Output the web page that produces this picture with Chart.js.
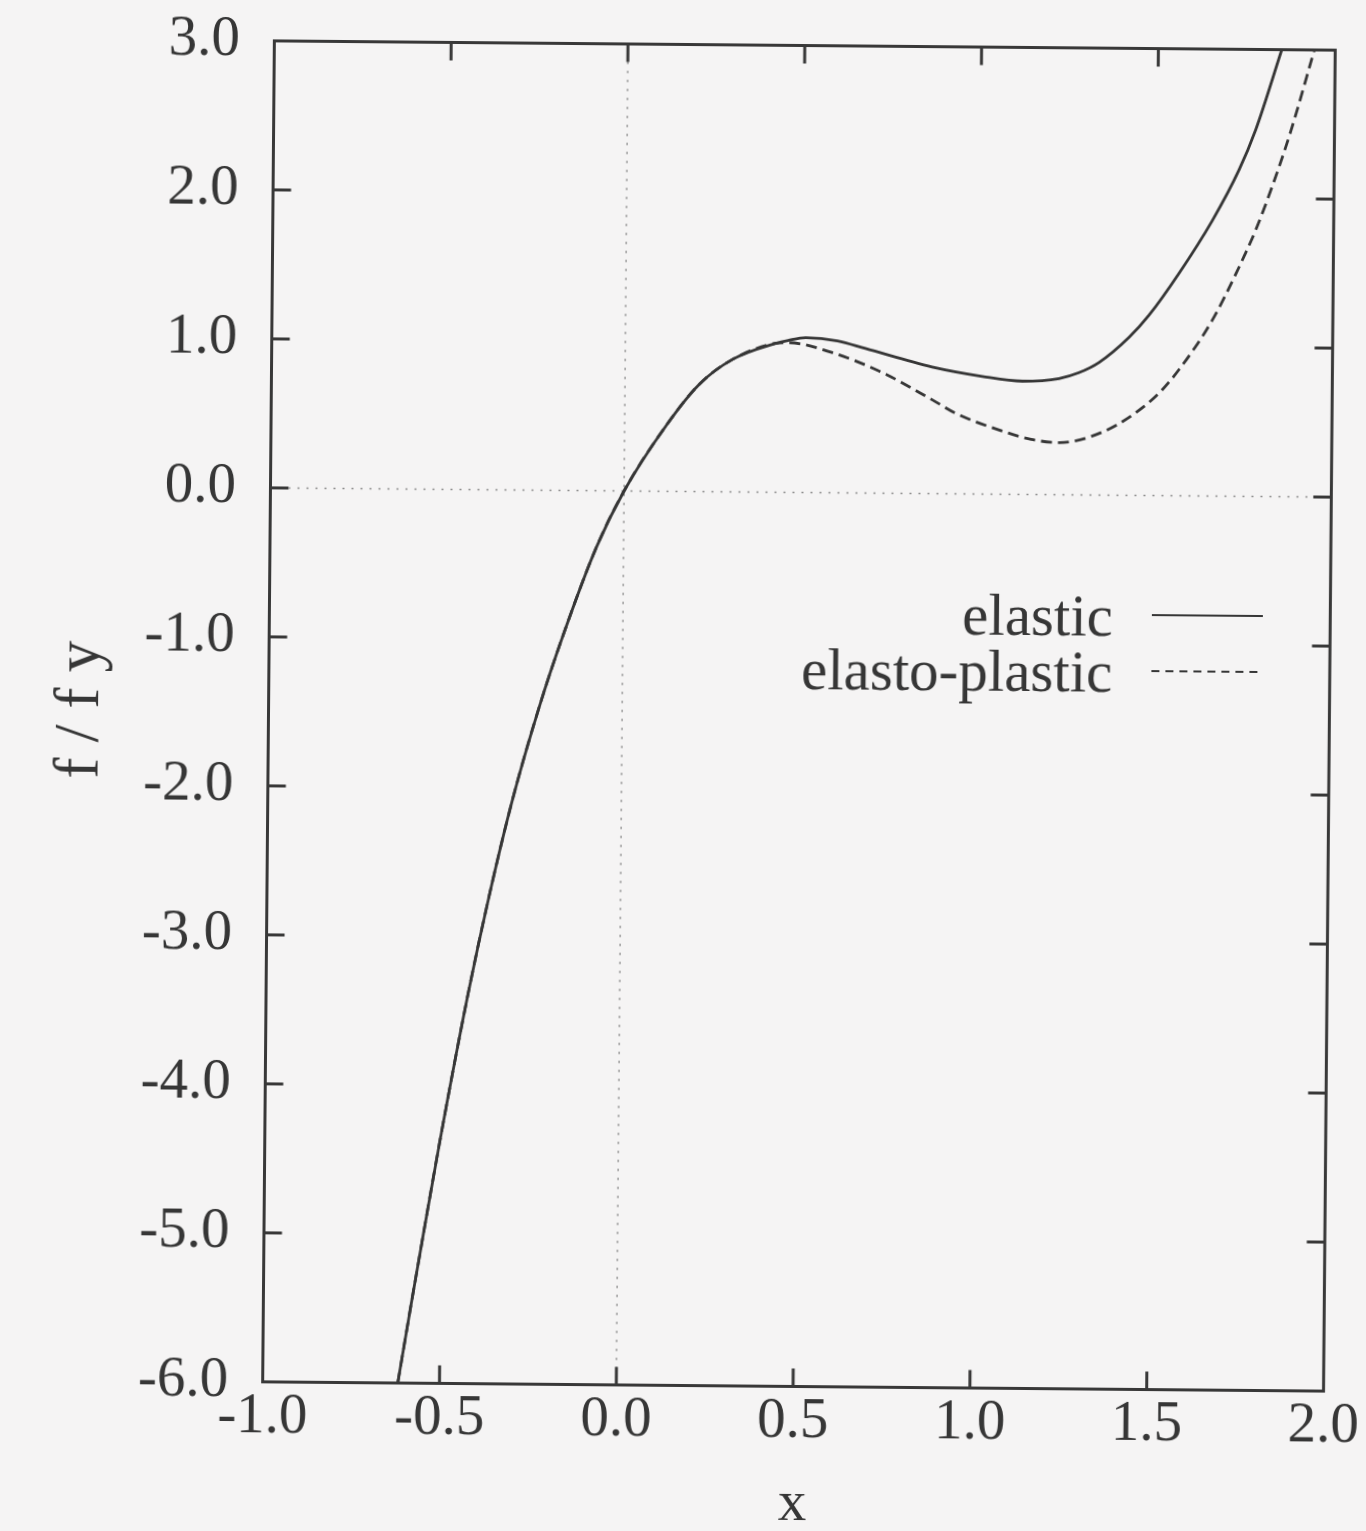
<!DOCTYPE html>
<html>
<head>
<meta charset="utf-8">
<script src="https://cdn.jsdelivr.net/npm/chart.js@4.4.1/dist/chart.umd.min.js"></script>
<style>
  html, body { margin: 0; padding: 0; background: #f5f4f4; overflow: hidden; }
  #wrap { position: absolute; left: 0; top: 0; width: 1366px; height: 1531px;
          transform: rotate(0.5deg); transform-origin: 799px 716px; }
  canvas { display: block; }
</style>
</head>
<body>
<div id="wrap"><canvas id="c" width="1366" height="1531"></canvas></div>
<script>
// ---------------- data ----------------
const xTickValues = [-1.0, -0.5, 0.0, 0.5, 1.0, 1.5, 2.0];
const xTickLabels = ['-1.0', '-0.5', '0.0', '0.5', '1.0', '1.5', '2.0'];
const yTickValues = [-6, -5, -4, -3, -2, -1, 0, 1, 2, 3];
const yTickLabels = ['-6.0', '-5.0', '-4.0', '-3.0', '-2.0', '-1.0', '0.0', '1.0', '2.0', '3.0'];
const seriesNames = ['elastic', 'elasto-plastic'];
const xAxisTitle = 'x';
const yAxisTitle = 'f / f y';

const elasticX = [-0.618, -0.582, -0.550, -0.506, -0.430, -0.371, -0.307, -0.234, -0.170, -0.077,
                  0.000, 0.117, 0.210, 0.304, 0.426, 0.460, 0.510, 0.600, 0.679, 0.868,
                  1.010, 1.124, 1.227, 1.283, 1.340, 1.424, 1.480, 1.563, 1.657, 1.731,
                  1.777, 1.849];
const elasticY = [-6.00, -5.47, -5.01, -4.39, -3.40, -2.72, -2.07, -1.45, -0.98, -0.38,
                  0.00, 0.44, 0.72, 0.89, 1.00, 1.02, 1.04, 1.02, 0.97, 0.85,
                  0.79, 0.76, 0.78, 0.82, 0.89, 1.06, 1.21, 1.49, 1.85, 2.19,
                  2.46, 3.00];

const plasticX = [-0.618, -0.582, -0.550, -0.506, -0.430, -0.371, -0.307, -0.234, -0.170, -0.077,
                  0.000, 0.117, 0.210, 0.304, 0.426, 0.460, 0.586, 0.727, 0.869, 0.936,
                  1.060, 1.150, 1.230, 1.343, 1.436, 1.519, 1.612, 1.659, 1.696, 1.751,
                  1.780, 1.825, 1.876, 1.941];
const plasticY = [-6.00, -5.47, -5.01, -4.39, -3.40, -2.72, -2.07, -1.45, -0.98, -0.38,
                  0.00, 0.44, 0.72, 0.89, 1.00, 1.005, 0.94, 0.81, 0.63, 0.54,
                  0.43, 0.37, 0.35, 0.415, 0.54, 0.71, 1.00, 1.18, 1.35, 1.63,
                  1.79, 2.08, 2.45, 3.00];

// ---------------- styles ----------------
const FONT = 'Liberation Serif';
const INK = '#363636';
const toPts = (xs, ys) => xs.map((x, i) => ({ x: x, y: ys[i] }));

const decorPlugin = {
  id: 'decor',
  beforeDatasetsDraw(chart) {
    const { ctx, chartArea: a, scales: { x, y } } = chart;
    const x0 = x.getPixelForValue(0), y0 = y.getPixelForValue(0);
    ctx.save();
    ctx.strokeStyle = '#8c8c8c';
    ctx.lineWidth = 1.6;
    ctx.setLineDash([2, 7]);
    ctx.beginPath();
    ctx.moveTo(x0, a.top); ctx.lineTo(x0, a.bottom);
    ctx.moveTo(a.left, y0); ctx.lineTo(a.right, y0);
    ctx.stroke();
    ctx.restore();
  },
  afterDatasetsDraw(chart) {
    const { ctx, chartArea: a, scales: { x, y } } = chart;
    const TL = 18;
    ctx.save();
    ctx.strokeStyle = '#383838';
    ctx.lineWidth = 3;
    ctx.setLineDash([]);
    ctx.beginPath();
    x.ticks.forEach(t => {
      const px = x.getPixelForValue(t.value);
      if (t.value <= x.min || t.value >= x.max) return;
      ctx.moveTo(px, a.bottom); ctx.lineTo(px, a.bottom - TL);
      ctx.moveTo(px, a.top); ctx.lineTo(px, a.top + TL);
    });
    y.ticks.forEach(t => {
      const py = y.getPixelForValue(t.value);
      if (t.value <= y.min || t.value >= y.max) return;
      ctx.moveTo(a.left, py); ctx.lineTo(a.left + TL, py);
      ctx.moveTo(a.right, py); ctx.lineTo(a.right - TL, py);
    });
    ctx.stroke();
    ctx.strokeRect(a.left, a.top, a.right - a.left, a.bottom - a.top);

    // key (text left, sample right)
    const opts = chart.options.plugins.decor;
    ctx.font = opts.fontSize + 'px "' + FONT + '"';
    ctx.fillStyle = INK;
    ctx.textAlign = 'right';
    ctx.textBaseline = 'alphabetic';
    chart.data.datasets.forEach((ds, i) => {
      const base = opts.baseline0 + i * opts.rowGap;
      ctx.fillText(ds.label, opts.textRight, base);
      const ly = opts.line0 + i * opts.rowGap;
      ctx.strokeStyle = ds.borderColor;
      ctx.lineWidth = ds.borderWidth * 0.8;
      ctx.setLineDash(ds.borderDash && ds.borderDash.length ? [8, 6] : []);
      ctx.beginPath();
      ctx.moveTo(opts.lineStart, ly); ctx.lineTo(opts.lineEnd, ly);
      ctx.stroke();
    });
    ctx.restore();
  }
};

new Chart(document.getElementById('c'), {
  type: 'scatter',
  data: {
    datasets: [
      { label: seriesNames[0], data: toPts(elasticX, elasticY), showLine: true,
        borderColor: INK, borderWidth: 2.8, pointRadius: 0, cubicInterpolationMode: 'monotone' },
      { label: seriesNames[1], data: toPts(plasticX, plasticY), showLine: true,
        borderColor: INK, borderWidth: 2.8, borderDash: [11, 6], pointRadius: 0,
        cubicInterpolationMode: 'monotone' }
    ]
  },
  options: {
    responsive: false,
    animation: false,
    events: [],
    layout: { padding: { top: 45.5, right: 36.5, left: 0, bottom: 0 } },
    plugins: {
      legend: { display: false },
      tooltip: { enabled: false },
      decor: { fontSize: 59, textRight: 1112, baseline0: 633, rowGap: 56,
               line0: 612, lineStart: 1151, lineEnd: 1262 }
    },
    scales: {
      x: {
        type: 'linear', position: 'bottom', min: -1, max: 2,
        grid: { display: true, drawTicks: false, color: 'rgba(0,0,0,0)' },
        border: { display: false },
        afterBuildTicks: s => { s.ticks = xTickValues.map(v => ({ value: v })); },
        afterFit: s => { s.height = 144.5; },
        ticks: { autoSkip: false, maxRotation: 0, padding: 1, color: INK,
                 font: { family: FONT, size: 57 },
                 callback: (v, i) => xTickLabels[i] },
        title: { display: true, text: xAxisTitle, color: INK, padding: 0,
                 font: { family: FONT, size: 57, lineHeight: 0.9 } }
      },
      y: {
        type: 'linear', position: 'left', min: -6, max: 3,
        grid: { display: true, drawTicks: true, tickLength: 34.5, color: 'rgba(0,0,0,0)' },
        border: { display: false },
        afterBuildTicks: s => { s.ticks = yTickValues.map(v => ({ value: v })); },
        afterFit: s => { s.width = 268.5; },
        ticks: { autoSkip: false, padding: 0, color: INK,
                 font: { family: FONT, size: 57 },
                 callback: (v, i) => yTickLabels[i] },
        title: { display: true, text: yAxisTitle, color: INK,
                 padding: { top: 44, bottom: 0 },
                 font: { family: FONT, size: 63, lineHeight: 1.2 } }
      }
    }
  },
  plugins: [decorPlugin]
});
</script>
</body>
</html>
